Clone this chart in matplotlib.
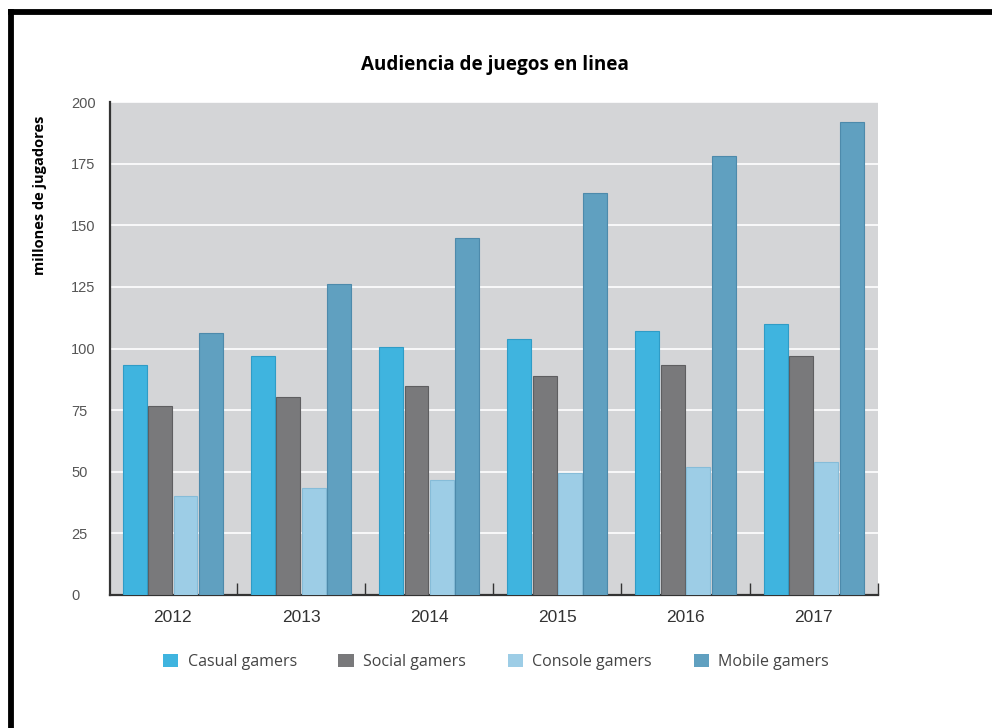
"""Bar chart: audiencia de juegos en linea (millones de jugadores), 2012-2017."""

import matplotlib
matplotlib.use('Agg')
import matplotlib.pyplot as plt
import numpy as np
from matplotlib.lines import Line2D

years = ['2012', '2013', '2014', '2015', '2016', '2017']
series_names = ['Casual gamers', 'Social gamers', 'Console gamers', 'Mobile gamers']
casual = [93.5, 97, 100.5, 104, 107, 110]
social = [76.5, 80.5, 85, 89, 93.5, 97]
console = [40, 43.5, 46.5, 49.5, 52, 54]
mobile = [106.5, 126, 145, 163, 178, 192]

colors = ['#3fb4df', '#79797b', '#9dcde6', '#60a0c0']
edge_colors = ['#2f9cc6', '#5e5e60', '#86bcd8', '#4d8aab']

fig = plt.figure(figsize=(9.92, 7.28), dpi=100)
ax = fig.add_axes([0.1109, 0.1827, 0.774, 0.677])
ax.set_facecolor('#d4d5d7')

x = np.arange(len(years))
width = 0.187
step = 0.198
for k, (vals, name) in enumerate(zip([casual, social, console, mobile], series_names)):
    offset = (k - 1.5) * step
    ax.bar(x + offset, vals, width, color=colors[k], edgecolor=edge_colors[k],
           linewidth=0.8, label=name, zorder=3)

ax.set_xlim(-0.49, 5.49)
ax.set_ylim(0, 200)
ax.set_yticks(np.arange(0, 201, 25))
ax.yaxis.grid(True, color='white', linewidth=1.2, zorder=1)
ax.set_axisbelow(True)

ax.set_xticks(x)
ax.set_xticklabels(years, family='Liberation Sans', fontsize=12.5, color='#333333')
ax.tick_params(axis='x', length=0, pad=11)
ax.set_xticks(np.arange(0.5, 6, 1), minor=True)
ax.tick_params(axis='x', which='minor', direction='in', length=9, width=1, color='#333333')
ax.tick_params(axis='y', length=0, pad=28, labelsize=10.5, labelcolor='#555555')
for lab in ax.get_yticklabels():
    lab.set_family('Liberation Sans')
    lab.set_horizontalalignment('left')

for side in ('top', 'right'):
    ax.spines[side].set_visible(False)
for side in ('left', 'bottom'):
    ax.spines[side].set_color('#333333')
    ax.spines[side].set_linewidth(1.6)

fig.text(0.499, 0.911, 'Audiencia de juegos en linea', ha='center', va='center',
         fontsize=13.6, fontweight='bold', family='Open Sans')
fig.text(0.040, 0.732, 'millones de jugadores', rotation=90, ha='center', va='center',
         fontsize=10.5, fontweight='bold', family='Open Sans')

leg = fig.legend(loc='center', bbox_to_anchor=(0.5, 0.091), ncol=4, frameon=False,
                 handlelength=0.95, handleheight=0.95, columnspacing=2.6, handletextpad=0.6,
                 prop={'family': 'Open Sans', 'size': 11.5})
for t in leg.get_texts():
    t.set_color('#444444')
for h in leg.legend_handles:
    h.set_linewidth(0)

# black frame (only top and left edges visible in the original crop)
fig.add_artist(Line2D([0.0112, 1.0], [0.9835, 0.9835], transform=fig.transFigure,
                      color='black', linewidth=4.2, solid_capstyle='projecting'))
fig.add_artist(Line2D([0.0112, 0.0112], [0.0, 0.9835], transform=fig.transFigure,
                      color='black', linewidth=4.2, solid_capstyle='projecting'))

fig.savefig('out.png', dpi=100)
